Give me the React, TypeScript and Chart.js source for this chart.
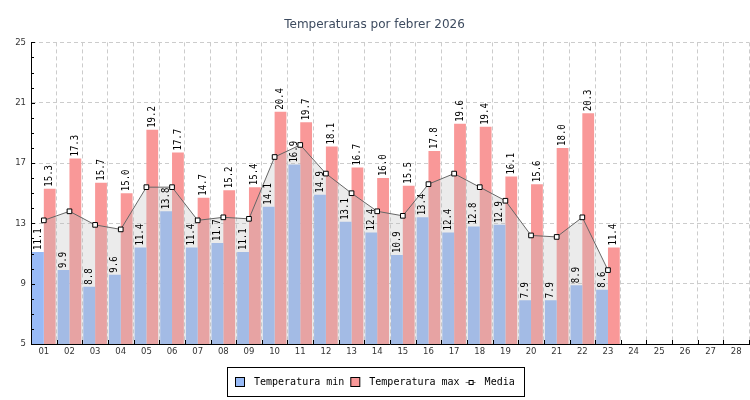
import React, { useEffect, useRef } from "react";
import { Chart, registerables } from "chart.js";

Chart.register(...registerables);

const TITLE = "Temperaturas por febrer 2026";

const days = [
  "01", "02", "03", "04", "05", "06", "07", "08", "09", "10",
  "11", "12", "13", "14", "15", "16", "17", "18", "19", "20",
  "21", "22", "23", "24", "25", "26", "27", "28",
];

const minTemps = [
  11.1, 9.9, 8.8, 9.6, 11.4, 13.8, 11.4, 11.7, 11.1, 14.1,
  16.9, 14.9, 13.1, 12.4, 10.9, 13.4, 12.4, 12.8, 12.9, 7.9,
  7.9, 8.9, 8.6,
];

const maxTemps = [
  15.3, 17.3, 15.7, 15.0, 19.2, 17.7, 14.7, 15.2, 15.4, 20.4,
  19.7, 18.1, 16.7, 16.0, 15.5, 17.8, 19.6, 19.4, 16.1, 15.6,
  18.0, 20.3, 11.4,
];

const meanTemps = [
  13.2, 13.8, 12.9, 12.6, 15.4, 15.4, 13.2, 13.4, 13.3, 17.4,
  18.2, 16.3, 15.0, 13.8, 13.5, 15.6, 16.3, 15.4, 14.5, 12.2,
  12.1, 13.4, 9.9,
];

const yMajorTicks = [5, 9, 13, 17, 21, 25];
const legendLabels = ["Temperatura min", "Temperatura max", "Media"];

const BLUE = "rgb(152,186,246)";
const RED = "rgb(249,152,152)";
const GRID = "#cccccc";
const MONO = '"DejaVu Sans Mono", monospace';
const SANS = '"DejaVu Sans", sans-serif';

const valueLabels = {
  id: "valueLabels",
  afterDatasetsDraw(chart: any) {
    const ctx = chart.ctx;
    ctx.save();
    ctx.font = `10px ${MONO}`;
    ctx.fillStyle = "#000";
    ctx.textAlign = "left";
    ctx.textBaseline = "middle";
    chart.data.datasets.forEach((ds: any, i: number) => {
      if (ds.type !== "bar") return;
      const meta = chart.getDatasetMeta(i);
      meta.data.forEach((el: any, j: number) => {
        const v = ds.data[j];
        if (v == null) return;
        ctx.save();
        ctx.translate(el.x, el.y - 2);
        ctx.rotate(-Math.PI / 2);
        ctx.scale(0.9, 1);
        ctx.fillText(Number(v).toFixed(1), 0, 0);
        ctx.restore();
      });
    });
    ctx.restore();
  },
};

const innerTicks = {
  id: "innerTicks",
  afterDraw(chart: any) {
    const ctx = chart.ctx;
    const a = chart.chartArea;
    const xs = chart.scales.x;
    const ys = chart.scales.y;
    ctx.save();
    ctx.strokeStyle = "#000";
    ctx.lineWidth = 1;
    ctx.beginPath();
    ys.ticks.forEach((t: any) => {
      const y = Math.round(ys.getPixelForValue(t.value)) + 0.5;
      const len = yMajorTicks.includes(t.value) ? 4 : 3;
      ctx.moveTo(a.left, y);
      ctx.lineTo(a.left + len, y);
    });
    for (let i = 0; i <= days.length; i++) {
      const x = Math.round(xs.getPixelForValue(i - 0.5)) + 0.5;
      ctx.moveTo(x, a.bottom);
      ctx.lineTo(x, a.bottom - 4);
    }
    ctx.stroke();
    ctx.restore();
  },
};

const boxedLegend = {
  id: "boxedLegend",
  afterDraw(chart: any) {
    const ctx = chart.ctx;
    ctx.save();
    ctx.font = `10px ${MONO}`;
    const widths = legendLabels.map((t) => ctx.measureText(t).width);
    const sym = 10, gapSym = 9, gapItem = 6, padL = 8, padR = 9;
    const total =
      padL + padR + widths.reduce((s, w) => s + sym + gapSym + w, 0) + gapItem * (legendLabels.length - 1);
    const x0 = Math.round(chart.width / 2 - total / 2) + 0.5;
    const top = Math.round(chart.chartArea.bottom + 23) + 0.5;
    const h = 29;
    ctx.strokeStyle = "#000";
    ctx.lineWidth = 1;
    ctx.strokeRect(x0, top, Math.round(total), h);
    const cy = top + h / 2;
    let x = x0 - 0.5 + padL;
    const fills = [BLUE, RED];
    legendLabels.forEach((label, i) => {
      if (i < 2) {
        ctx.fillStyle = fills[i];
        ctx.fillRect(x + 0.5, Math.round(cy - 5) + 0.5, 9, 9);
        ctx.strokeStyle = "#000";
        ctx.strokeRect(x + 0.5, Math.round(cy - 5) + 0.5, 9, 9);
      } else {
        const ly = Math.round(cy) + 0.5;
        ctx.strokeStyle = "#707070";
        ctx.beginPath();
        ctx.moveTo(x, ly);
        ctx.lineTo(x + sym, ly);
        ctx.stroke();
        ctx.fillStyle = "#fff";
        ctx.strokeStyle = "#000";
        ctx.fillRect(x + 3.5, ly - 2, 4, 4);
        ctx.strokeRect(x + 3.5, ly - 2, 4, 4);
      }
      x += sym + gapSym;
      ctx.fillStyle = "#000";
      ctx.textAlign = "left";
      ctx.textBaseline = "middle";
      ctx.fillText(label, x, cy);
      x += widths[i] + gapItem;
    });
    ctx.restore();
  },
};

export default function App() {
  const canvasRef = useRef<HTMLCanvasElement | null>(null);

  useEffect(() => {
    document.body.style.margin = "0";
    const canvas = canvasRef.current;
    if (!canvas) return;
    const chart = new Chart(canvas, {
      type: "bar",
      data: {
        labels: days,
        datasets: [
          {
            type: "line",
            label: "Media",
            data: meanTemps,
            borderColor: "#666666",
            borderWidth: 1,
            backgroundColor: "rgba(190,190,190,0.3)",
            fill: "start",
            tension: 0,
            pointStyle: "rect",
            pointRadius: 3.3,
            pointBackgroundColor: "#ffffff",
            pointBorderColor: "#000000",
            pointBorderWidth: 1,
            order: 0,
          } as any,
          {
            type: "bar",
            label: "Temperatura min",
            data: minTemps,
            backgroundColor: BLUE,
            borderWidth: 0,
            categoryPercentage: 0.92,
            barPercentage: 1,
            order: 1,
          } as any,
          {
            type: "bar",
            label: "Temperatura max",
            data: maxTemps,
            backgroundColor: RED,
            borderWidth: 0,
            categoryPercentage: 0.92,
            barPercentage: 1,
            order: 1,
          } as any,
        ],
      },
      options: {
        animation: false,
        responsive: true,
        maintainAspectRatio: false,
        layout: { autoPadding: false, padding: { top: 0, left: 0, right: 1, bottom: 40 } },
        plugins: {
          legend: { display: false },
          tooltip: { enabled: false },
          title: {
            display: true,
            text: TITLE,
            color: "#3d4b5f",
            font: { family: SANS, size: 12, weight: "normal" },
            padding: { top: 18, bottom: 10 },
          },
        },
        scales: {
          x: {
            afterFit: (s: any) => {
              s.height = 16;
              s.paddingLeft = 0;
              s.paddingRight = 0;
            },
            ticks: {
              autoSkip: false,
              maxRotation: 0,
              padding: 3,
              color: "#333",
              font: { family: SANS, size: 8.5 },
            },
            grid: {
              drawTicks: false,
              offset: true,
              color: (c: any) => (c.index === 0 ? "rgba(0,0,0,0)" : GRID),
            },
            border: { color: "#000", width: 1, dash: [4, 3] },
          },
          y: {
            min: 5,
            max: 25,
            afterFit: (s: any) => {
              s.width = 31;
              s.paddingTop = 0;
              s.paddingBottom = 0;
            },
            ticks: {
              stepSize: 1,
              autoSkip: false,
              padding: 5,
              color: "#333",
              font: { family: SANS, size: 8.5 },
              callback: (v: any) => (yMajorTicks.includes(Number(v)) ? String(v) : ""),
            },
            grid: {
              drawTicks: false,
              color: (c: any) =>
                c.tick && yMajorTicks.includes(c.tick.value) && c.tick.value !== 5 ? GRID : "rgba(0,0,0,0)",
            },
            border: { color: "#000", width: 1, dash: [4, 3] },
          },
        },
      } as any,
      plugins: [valueLabels, innerTicks, boxedLegend],
    });
    return () => chart.destroy();
  }, []);

  return (
    <div style={{ width: 750, height: 400, position: "relative" }}>
      <canvas ref={canvasRef} />
    </div>
  );
}
